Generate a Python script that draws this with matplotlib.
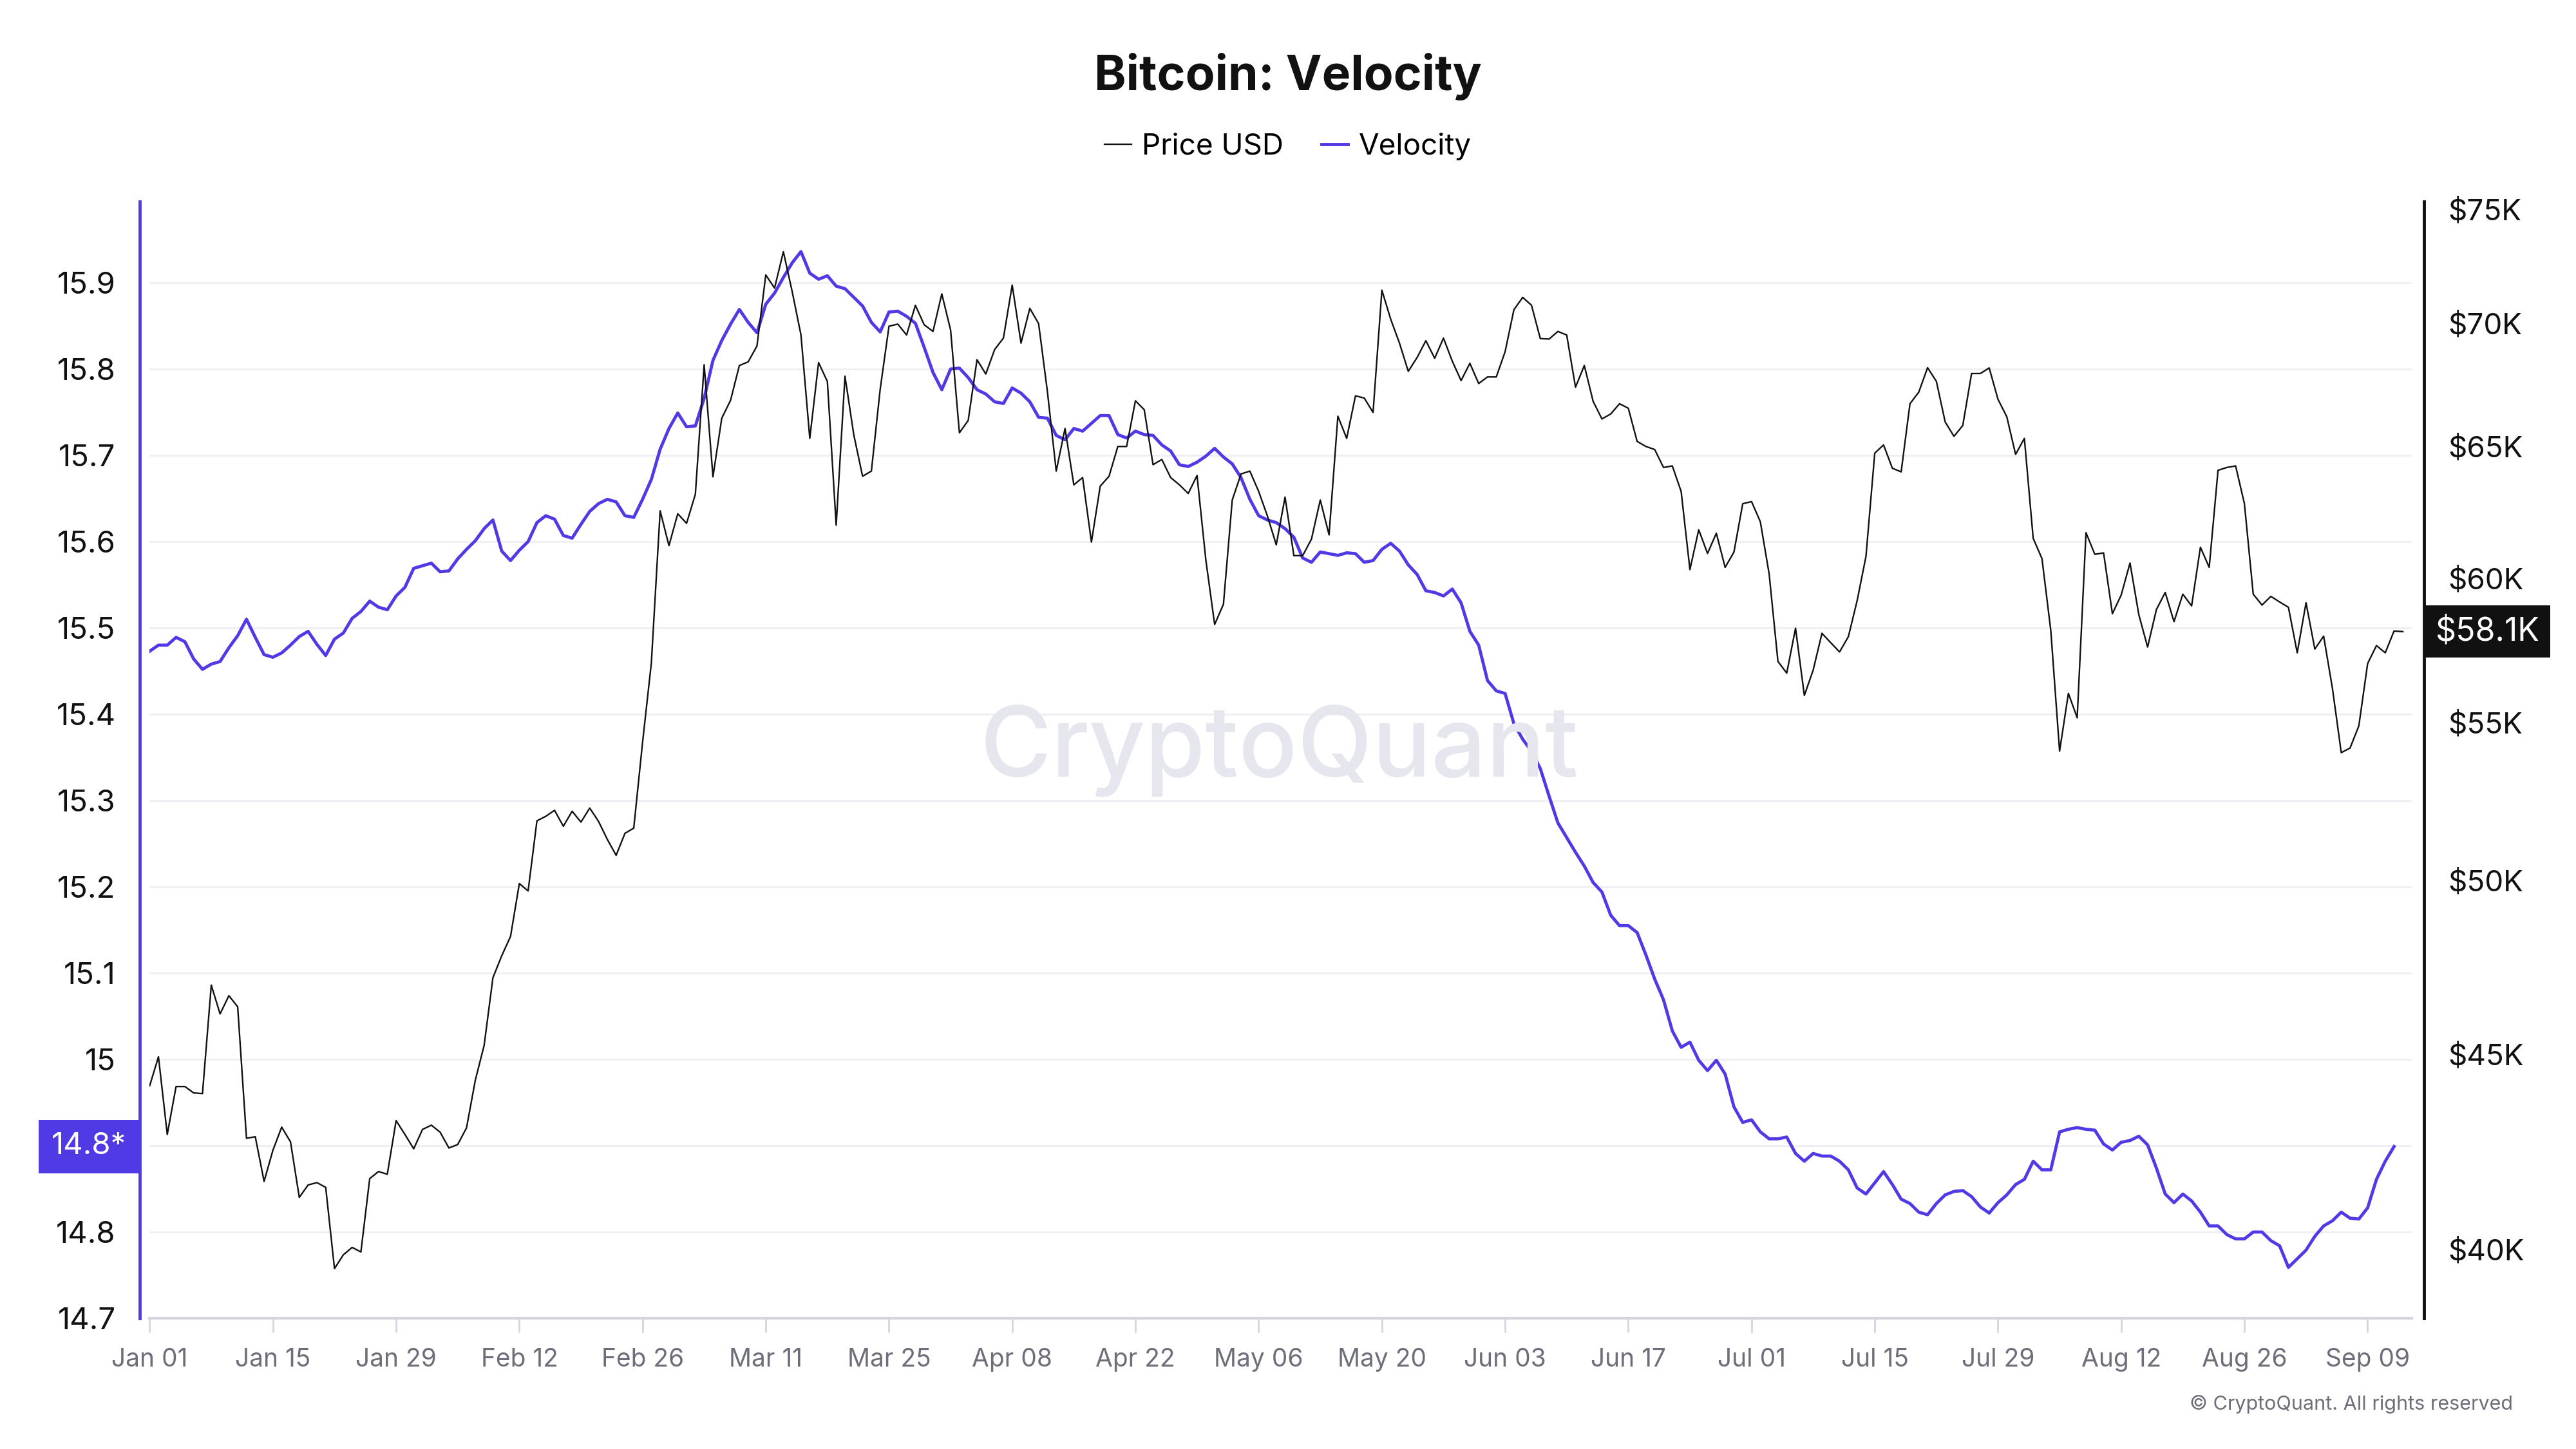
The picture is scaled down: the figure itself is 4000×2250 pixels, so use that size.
import numpy as np
import pandas as pd
import matplotlib
matplotlib.use("Agg")
import matplotlib.pyplot as plt
import matplotlib.dates as mdates
from matplotlib.ticker import NullLocator
from matplotlib.transforms import blended_transform_factory

plt.rcParams['font.family'] = ['Inter', 'DejaVu Sans']

# daily values (2024-01-01 onwards)
price_usd = [
    44150, 44930, 42870, 44130, 44130, 43960, 43940, 46920, 46110, 46620, 46310, 42770, 42810, 41670, 42460,
    43060, 42680, 41270, 41580, 41640, 41520, 39530, 39860, 40040, 39930, 41740, 41920, 41850, 43230, 42870,
    42500, 43000, 43110, 42930, 42520, 42610, 43040, 44300, 45240, 47130, 47760, 48320, 49890,
    49670, 51820, 51960, 52150, 51650, 52120, 51780, 52220, 51800, 51240, 50750, 51430, 51590, 54330, 57010,
    62500, 61200, 62390, 62030, 63130, 68270, 63800, 66100, 66820, 68240, 68390, 69050, 72080, 71510, 73100,
    71360, 69510, 65300, 68360, 67580, 61960, 67800, 65440, 63820, 64020, 67270, 69880, 69970,
    69510, 70770, 69940, 69660, 71260, 69720, 65520, 66010, 68480, 67890, 68900, 69380, 71640, 69170, 70640,
    69990, 67170, 64020, 65690, 63490, 63770, 61330, 63440, 63820, 64980, 64980, 66800, 66440, 64270, 64470,
    63770, 63490, 63160, 63850, 60670, 58350, 59070, 62910, 63910, 64020, 63240, 62300,
    61230, 63020, 60830, 60830, 61440, 62910, 61600, 66180, 65300, 67000, 66910, 66330, 71420, 70180, 69170,
    68000, 68570, 69270, 68540, 69380, 68420, 67620, 68330, 67500, 67770, 67770, 68810, 70580, 71110, 70770,
    69360, 69340, 69660, 69510, 67350, 68240, 66780, 66070, 66270, 66680, 66500, 65180, 64980,
    64860, 64160, 64220, 63240, 60320, 61790, 60910, 61660, 60400, 60960, 62770, 62850, 62090, 60160, 57060,
    56660, 58220, 55900, 56760, 58040, 57710, 57390, 57920, 59200, 60800, 64720, 65040, 64130, 63990, 66680,
    67150, 68150, 67590, 65950, 65380, 65810, 67910, 67910, 68140, 66860, 66160, 64670,
    65300, 61470, 60720, 58140, 54050, 55970, 55150, 61680, 60880, 60930, 58730, 59400, 60560, 58700, 57560,
    58880, 59490, 58450, 59430, 59010, 61140, 60400, 64050, 64160, 64220, 62770, 59430, 59040, 59350, 59150,
    58960, 57360, 59120, 57490, 57940, 56140, 54000, 54150, 54880, 56990, 57610, 57360, 58120, 58100,
]

velocity = [
    15.473, 15.480, 15.480, 15.489, 15.484, 15.464, 15.452, 15.458, 15.461, 15.477, 15.491, 15.510, 15.489,
    15.469, 15.466, 15.471, 15.480, 15.490, 15.496, 15.481, 15.468, 15.487, 15.494, 15.511, 15.519, 15.531,
    15.524, 15.521, 15.537, 15.547, 15.569, 15.572, 15.575, 15.565, 15.566, 15.580, 15.591, 15.601, 15.615,
    15.625, 15.589, 15.578, 15.590,
    15.600, 15.622, 15.630, 15.626, 15.607, 15.604, 15.620, 15.635, 15.644, 15.649, 15.646, 15.630, 15.628,
    15.649, 15.672, 15.707, 15.731, 15.749, 15.733, 15.734, 15.766, 15.810, 15.833, 15.852, 15.869, 15.854,
    15.842, 15.875, 15.888, 15.906, 15.923, 15.936, 15.911, 15.904, 15.908, 15.896, 15.893, 15.883, 15.873,
    15.854, 15.843, 15.866, 15.867,
    15.861, 15.853, 15.825, 15.796, 15.776, 15.800, 15.801, 15.790, 15.776, 15.771, 15.762, 15.760, 15.778,
    15.772, 15.762, 15.744, 15.743, 15.723, 15.718, 15.731, 15.728, 15.737, 15.746, 15.746, 15.724, 15.720,
    15.728, 15.724, 15.723, 15.712, 15.705, 15.689, 15.687, 15.692, 15.699, 15.708, 15.698, 15.690, 15.674,
    15.649, 15.630, 15.625,
    15.622, 15.615, 15.605, 15.581, 15.576, 15.588, 15.586, 15.584, 15.587, 15.586, 15.576, 15.578, 15.591,
    15.598, 15.589, 15.573, 15.562, 15.543, 15.541, 15.537, 15.545, 15.529, 15.496, 15.480, 15.439, 15.427,
    15.424, 15.389, 15.371, 15.357, 15.337, 15.305, 15.274, 15.257, 15.240, 15.224, 15.205, 15.194, 15.167,
    15.155, 15.155, 15.147, 15.121,
    15.093, 15.069, 15.033, 15.014, 15.020, 14.999, 14.987, 14.999, 14.983, 14.945, 14.927, 14.930, 14.916,
    14.908, 14.908, 14.910, 14.891, 14.882, 14.891, 14.888, 14.888, 14.882, 14.872, 14.851, 14.844, 14.857,
    14.870, 14.855, 14.838, 14.833, 14.823, 14.820, 14.833, 14.843, 14.847, 14.848, 14.841, 14.829, 14.822,
    14.834, 14.843, 14.855,
    14.861, 14.882, 14.872, 14.872, 14.916, 14.919, 14.921, 14.919, 14.918, 14.902, 14.895, 14.904, 14.906,
    14.911, 14.901, 14.874, 14.844, 14.834, 14.844, 14.836, 14.823, 14.807, 14.807, 14.797, 14.792, 14.792,
    14.800, 14.800, 14.790, 14.784, 14.759, 14.769, 14.779, 14.795, 14.807, 14.813, 14.823, 14.816, 14.815,
    14.828, 14.861, 14.882, 14.899,
]

left_ticks = [14.7, 14.8, 14.9, 15.0, 15.1, 15.2, 15.3, 15.4, 15.5, 15.6, 15.7, 15.8, 15.9]
left_labels = ['14.7', '14.8', '', '15', '15.1', '15.2', '15.3', '15.4', '15.5', '15.6', '15.7', '15.8', '15.9']
right_ticks = [40000, 45000, 50000, 55000, 60000, 65000, 70000, 75000]
right_labels = ['$40K', '$45K', '$50K', '$55K', '$60K', '$65K', '$70K', '$75K']

start = pd.Timestamp('2024-01-01')
price_dates = pd.date_range(start, periods=len(price_usd), freq='D')
velocity_dates = price_dates[:len(velocity)]
tick_dates = pd.date_range(start, '2024-09-09', freq='14D')

purple = '#4f3ae6'
grey_txt = '#6e6e7a'

fig = plt.figure(figsize=(40, 22.5), dpi=100)
ax = fig.add_axes([0.0581, 0.0902, 0.8781, 0.7707])
ax2 = ax.twinx()

# watermark
fig.text(0.4965, 0.482, 'CryptoQuant', ha='center', va='center', fontsize=109,
         fontweight='medium', color='#e6e6ee', zorder=0)

vel_line, = ax.plot(velocity_dates, velocity, color=purple, lw=3.5, label='Velocity', zorder=3)
price_line, = ax2.plot(price_dates, price_usd, color='#111111', lw=1.7, label='Price USD', zorder=3)

ax.set_xlim(start, start + pd.Timedelta(days=257))
ax.set_ylim(14.7, 15.994)
ax.set_yticks(left_ticks)
ax.set_yticklabels(left_labels)
ax.yaxis.grid(True, color='#efeff3', lw=2)
ax.set_axisbelow(True)
ax.patch.set_alpha(0)

ax.set_xticks(tick_dates)
ax.xaxis.set_major_formatter(mdates.DateFormatter('%b %d'))
ax.tick_params(axis='x', length=16, width=2, color='#d5d5de', labelcolor=grey_txt,
               labelsize=28, pad=17)
ax.tick_params(axis='y', length=0, pad=27, labelsize=34, labelcolor='#111111')

ax.spines['top'].set_visible(False)
ax.spines['right'].set_visible(False)
ax.spines['bottom'].set_color('#d5d5de')
ax.spines['bottom'].set_linewidth(3)
ax.spines['left'].set_color(purple)
ax.spines['left'].set_linewidth(3.5)
ax.spines['left'].set_position(('outward', 11))

ax2.set_yscale('log')
ax2.set_ylim(38360, 75350)
ax2.set_yticks(right_ticks)
ax2.set_yticklabels(right_labels)
ax2.yaxis.set_minor_locator(NullLocator())
ax2.tick_params(axis='y', which='both', length=0, pad=27, labelsize=33, labelcolor='#111111')
for s in ['top', 'left', 'bottom']:
    ax2.spines[s].set_visible(False)
ax2.spines['right'].set_color('#111111')
ax2.spines['right'].set_linewidth(3.5)
ax2.spines['right'].set_position(('outward', 14))

# current value tags
tr = blended_transform_factory(ax.transAxes, ax.transData)
ax.text(-0.0104, velocity[-1], '14.8*', transform=tr, ha='right', va='center', fontsize=34,
        color='white', bbox=dict(boxstyle='square,pad=0.42', fc=purple, ec='none'), clip_on=False)
tr2 = blended_transform_factory(ax2.transAxes, ax2.transData)
ax2.text(1.0105, price_usd[-1], '$58.1K', transform=tr2, ha='left', va='center', fontsize=36,
         color='white', bbox=dict(boxstyle='square,pad=0.33', fc='#111111', ec='none'), clip_on=False)

fig.text(0.5, 0.947, 'Bitcoin: Velocity', ha='center', va='center', fontsize=54,
         fontweight='bold', color='#111111')
fig.legend([price_line, vel_line], ['Price USD', 'Velocity'], loc='center',
           bbox_to_anchor=(0.5, 0.899), ncol=2, frameon=False, fontsize=33,
           handlelength=0.9, handletextpad=0.35, columnspacing=1.3)
fig.text(0.9755, 0.0307, '\u00a9 CryptoQuant. All rights reserved', ha='right', va='center',
         fontsize=22, color=grey_txt)

fig.savefig('out.png', dpi=100)
